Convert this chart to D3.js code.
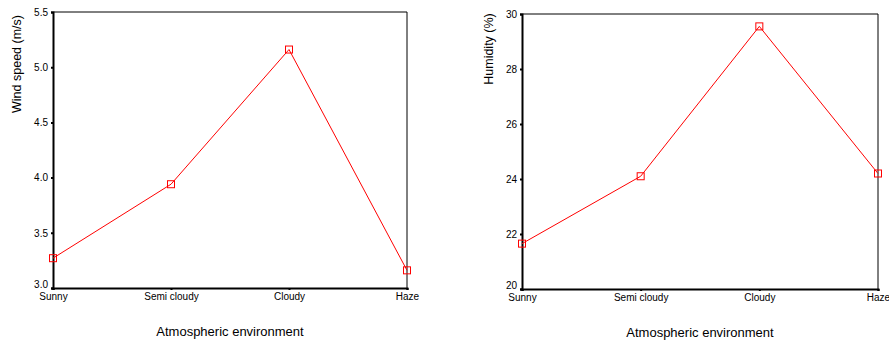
<!DOCTYPE html>
<html>
<head>
<meta charset="utf-8">
<script src="https://cdn.jsdelivr.net/npm/d3@7"></script>
<style>
body { margin: 0; background: #fff; }
text { font-family: "Liberation Sans", Arial, sans-serif; fill: #000; }
</style>
</head>
<body>
<div id="chart"></div>
<script>
var categories = ["Sunny", "Semi cloudy", "Cloudy", "Haze"];
var windSpeed = [3.27, 3.94, 5.16, 3.16];
var humidity = [21.65, 24.1, 29.55, 24.2];
var windTicks = [3.0, 3.5, 4.0, 4.5, 5.0, 5.5];
var humidityTicks = [20, 22, 24, 26, 28, 30];

function init(){
    var svg = d3.select("#chart")
                .append("svg")
                .attr("width", 889)
                .attr("height", 341);

    function panel(opts){
        var g = svg.append("g")
                   .attr("transform", "translate(" + opts.left + "," + opts.top + ")");
        var w = opts.w, h = opts.h;

        var xScale = d3.scalePoint().domain(categories).range([0, w]);
        var yScale = d3.scaleLinear().domain(opts.domain).range([h, 0]);

        // frame, thinner on top and right
        g.append("line").attr("x1", 0).attr("x2", w).attr("y1", 0).attr("y2", 0)
            .attr("stroke", "#000").attr("stroke-width", 1);
        g.append("line").attr("x1", w).attr("x2", w).attr("y1", 0).attr("y2", h)
            .attr("stroke", "#000").attr("stroke-width", 1);

        var xAxis = d3.axisBottom(xScale).tickSize(2).tickPadding(3);
        var yAxis = d3.axisLeft(yScale).tickValues(opts.ticks).tickSize(2).tickPadding(3)
                      .tickFormat(opts.fmt);

        var gx = g.append("g").attr("transform", "translate(0," + h + ")").call(xAxis);
        var gy = g.append("g").call(yAxis);
        [gx, gy].forEach(function(a){
            a.select(".domain").attr("stroke-width", 2);
            a.selectAll(".tick line").attr("stroke-width", 2);
            a.selectAll("text").style("font-size", "10px")
             .style("font-family", "Liberation Sans, Arial, sans-serif");
        });
        // lowest y label sits a little above its tick
        gy.selectAll(".tick text").filter(function(d){ return d === opts.domain[0]; })
          .attr("dy", "-0.1em");

        var line = d3.line()
                     .x(function(d, i){ return xScale(categories[i]); })
                     .y(function(d){ return yScale(d); });

        g.append("path")
            .datum(opts.values)
            .attr("fill", "none")
            .attr("stroke", "#ff0000")
            .attr("stroke-width", 1)
            .attr("d", line);

        g.selectAll(".pt")
            .data(opts.values)
            .enter().append("rect")
            .attr("x", function(d, i){ return xScale(categories[i]) - 3.5; })
            .attr("y", function(d){ return yScale(d) - 3.5; })
            .attr("width", 7).attr("height", 7)
            .attr("fill", "none")
            .attr("stroke", "#ff0000")
            .attr("stroke-width", 1);

        g.append("text")
            .attr("x", w / 2).attr("y", h + 48)
            .attr("text-anchor", "middle")
            .style("font-size", "13px")
            .text("Atmospheric environment");

        g.append("text")
            .attr("transform", "translate(" + opts.labelX + "," + opts.labelY + ") rotate(-90)")
            .attr("text-anchor", "middle")
            .style("font-size", "12.5px")
            .text(opts.label);
    }

    panel({left: 53, top: 12, w: 354, h: 276, domain: [3.0, 5.5], ticks: windTicks,
           fmt: d3.format(".1f"), values: windSpeed, label: "Wind speed (m/s)",
           labelX: -32, labelY: 52});
    panel({left: 522, top: 14, w: 356, h: 275, domain: [20, 30], ticks: humidityTicks,
           fmt: d3.format("d"), values: humidity, label: "Humidity (%)",
           labelX: -29, labelY: 35});
}
window.onload = init;
</script>
</body>
</html>
